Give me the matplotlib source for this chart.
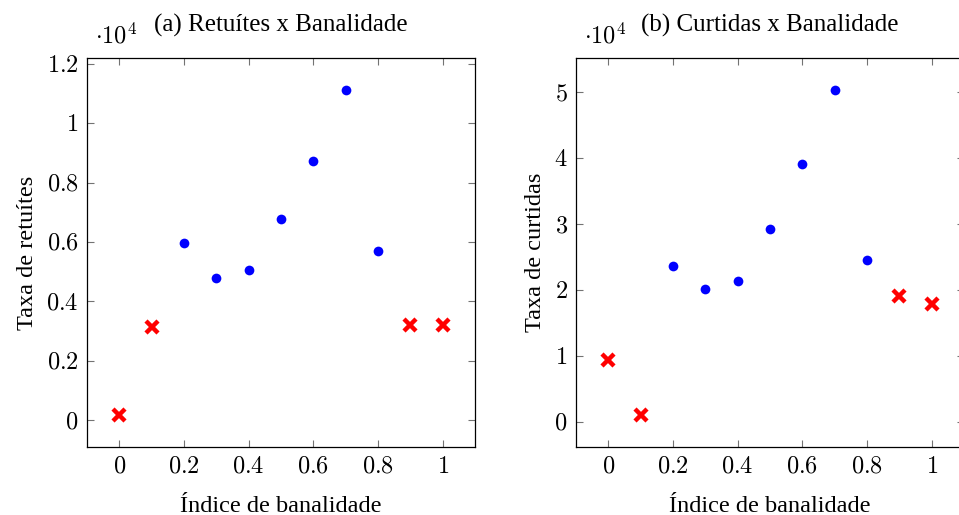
import numpy as np
import matplotlib
matplotlib.use('Agg')
from matplotlib import pyplot as plt

plt.rcParams['font.family'] = ['Liberation Serif', 'DejaVu Serif']
plt.rcParams['mathtext.fontset'] = 'cm'

# Data (values in units of 10^4)
x_normal = [0.2, 0.3, 0.4, 0.5, 0.6, 0.7, 0.8]
x_outlier = [0.0, 0.1, 0.9, 1.0]

retweets_normal = [0.598, 0.480, 0.507, 0.676, 0.872, 1.110, 0.568]
retweets_outlier = [0.019, 0.313, 0.321, 0.321]

curtidas_normal = [2.37, 2.01, 2.14, 2.93, 3.92, 5.03, 2.46]
curtidas_outlier = [0.94, 0.11, 1.915, 1.79]

panels = [
    ('(a) Retuítes x Banalidade', 'Taxa de retuítes', retweets_normal, retweets_outlier,
     [0, 0.2, 0.4, 0.6, 0.8, 1.0, 1.2], ['0', '0.2', '0.4', '0.6', '0.8', '1', '1.2']),
    ('(b) Curtidas x Banalidade', 'Taxa de curtidas', curtidas_normal, curtidas_outlier,
     [0, 1, 2, 3, 4, 5], ['0', '1', '2', '3', '4', '5']),
]

fig = plt.figure(figsize=(9.59, 5.15), dpi=100)
positions = [[0.0907, 0.132, 0.4046, 0.7553], [0.6006, 0.132, 0.4046, 0.7553]]

xticks = [0, 0.2, 0.4, 0.6, 0.8, 1.0]
xticklabels = ['0', '0.2', '0.4', '0.6', '0.8', '1']

for pos, (title, ylabel, yn, yo, yt, ytl) in zip(positions, panels):
    ax = fig.add_axes(pos)
    ax.plot(x_normal, yn, 'o', color='blue', markersize=7, markeredgewidth=0)
    ax.plot(x_outlier, yo, 'x', color='red', markersize=9, markeredgewidth=3.2)

    allv = yn + yo
    lo, hi = min(allv), max(allv)
    pad = 0.1 * (hi - lo)
    ax.set_ylim(lo - pad, hi + pad)
    ax.set_xlim(-0.1, 1.1)

    ax.set_xticks(xticks)
    ax.set_xticklabels(['$%s$' % t for t in xticklabels])
    ax.set_yticks(yt)
    ax.set_yticklabels(['$%s$' % t for t in ytl])
    ax.tick_params(direction='in', top=True, right=True, length=5, width=0.8,
                   color='0.45', labelsize=17.5)
    ax.tick_params(axis='x', pad=7)
    ax.tick_params(axis='y', pad=6)
    for s in ax.spines.values():
        s.set_linewidth(0.9)

    ax.set_title(title, fontsize=18, pad=19)
    ax.set_xlabel('Índice de banalidade', fontsize=17.5, labelpad=13)
    ax.set_ylabel(ylabel, fontsize=17.5, labelpad=6)
    ax.text(0.02, 1.025, r'$\cdot 10^4$', transform=ax.transAxes, fontsize=17.5,
            ha='left', va='bottom')

fig.savefig('out.png', dpi=100)
